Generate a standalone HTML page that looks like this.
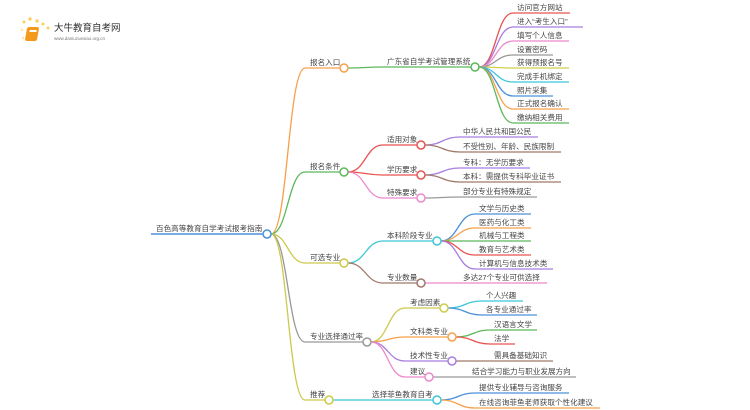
<!DOCTYPE html>
<html><head><meta charset="utf-8">
<style>
html,body{margin:0;padding:0;background:#fff;width:750px;height:410px;overflow:hidden}
svg text{font-family:"Liberation Sans","Noto Sans CJK SC",sans-serif;font-size:7.6px;fill:#444}
</style></head>
<body>
<svg id="s" width="750" height="410" xmlns="http://www.w3.org/2000/svg">
<g>
 <circle cx="24" cy="22" r="1.5" fill="#fbd35a"/><circle cx="30" cy="19" r="1.7" fill="#fbd35a"/><circle cx="37" cy="21" r="1.7" fill="#fbd35a"/><circle cx="43" cy="24" r="1.5" fill="#fbd35a"/><circle cx="48" cy="28" r="1.5" fill="#fbd35a"/><circle cx="22" cy="30" r="1.3" fill="#fde7a0"/><circle cx="23" cy="38" r="1.2" fill="#fde7a0"/>
 <rect x="32" y="27" width="12" height="14" rx="2" fill="#f39a1c" transform="skewX(-10)"/>
 <rect x="35" y="30" width="7" height="2" fill="#fff" transform="skewX(-10)"/>
 <text x="54" y="31" style="font-size:9.5px;fill:#333">大牛教育自考网</text>
 <text x="54" y="40" style="font-size:4.5px;fill:#777">www.daniuzuexiao.org.cn</text>
</g>
</svg>
<script>
var s=document.getElementById('s'),NS='http://www.w3.org/2000/svg';
function el(t,a,txt){var e=document.createElementNS(NS,t);for(var k in a)e.setAttribute(k,a[k]);if(txt)e.textContent=txt;s.appendChild(e);return e;}
var circles=[];
function link(px,py,x,y,end,col,label,circ,tx){
 var mx=(px+x)/2;
 el('path',{d:'M'+px+' '+py+' C'+mx+' '+py+','+mx+' '+y+','+x+' '+y+' L'+end+' '+y,fill:'none',stroke:col,'stroke-width':1.3});
 el('text',{x:tx||x+2,y:y-3},label);
 if(circ)circles.push([end+4,y,col]);
}
el('line',{x1:151,y1:234,x2:263,y2:234,stroke:'#4a90d9','stroke-width':1.5});
el('text',{x:156,y:231},'百色高等教育自学考试报考指南');
circles.push([267,234,'#4a90d9']);
var R=[271,234];
link(R[0],R[1],305,68,340,'#f7a04a','报名入口',1,310);
link(R[0],R[1],305,172,340,'#5cb85c','报名条件',1,310);
link(R[0],R[1],305,263,340,'#cdc94a','可选专业',1,310);
link(R[0],R[1],305,342,363,'#999','专业选择通过率',1,310);
link(R[0],R[1],305,400,325,'#cdc94a','推荐',1,310);
link(348,68,383,67,471,'#5cb85c','广东省自学考试管理系统',1,387);
var a=[['访问官方网站',13,570,'#e8534f'],['进入“考生入口”',27,583,'#a87de0'],['填写个人信息',41,569,'#ee88cc'],['设置密码',55,553,'#999'],['获得预报名号',68,569,'#d4cf4a'],['完成手机绑定',82,569,'#3cc7d8'],['照片采集',96,553,'#4a90d9'],['正式报名确认',109,569,'#f7a04a'],['缴纳相关费用',123,569,'#5cb85c']];
a.forEach(function(c){link(479,67,513,c[1],c[2],c[3],c[0],0,517);});
link(348,172,383,145,417,'#e8534f','适用对象',1,387);
link(348,172,383,175,417,'#e8534f','学历要求',1,387);
link(348,172,383,198,417,'#ee88cc','特殊要求',1,387);
link(425,145,460,137,538,'#a87de0','中华人民共和国公民',0,463);
link(425,145,460,152,561,'#a0796a','不受性别、年龄、民族限制',0,463);
link(425,175,460,168,530,'#a87de0','专科：无学历要求',0,463);
link(425,175,460,182,561,'#a0796a','本科：需提供专科毕业证书',0,463);
link(425,198,460,197,537,'#999','部分专业有特殊规定',0,463);
link(348,263,383,241,433,'#3cc7d8','本科阶段专业',1,387);
link(348,263,383,283,417,'#a0796a','专业数量',1,387);
var b=[['文学与历史类',214,531,'#4a90d9'],['医药与化工类',228,531,'#f7a04a'],['机械与工程类',241,531,'#5cb85c'],['教育与艺术类',255,531,'#e8534f'],['计算机与信息技术类',269,553,'#a87de0']];
b.forEach(function(c){link(441,241,475,c[1],c[2],c[3],c[0],0,479);});
link(425,283,460,283,547,'#ee88cc','多达27个专业可供选择',0,463);
link(371,342,405,308,440,'#cdc94a','考虑因素',1,410);
link(371,342,405,337,448,'#f7a04a','文科类专业',1,410);
link(371,342,405,361,448,'#a87de0','技术性专业',1,410);
link(371,342,405,377,425,'#ee88cc','建议',1,410);
link(448,308,482,301,523,'#3cc7d8','个人兴趣',0,486);
link(448,308,482,315,537,'#4a90d9','各专业通过率',0,486);
link(456,337,490,330,537,'#5cb85c','汉语言文学',0,494);
link(456,337,490,344,515,'#e8534f','法学',0,494);
link(456,361,490,361,553,'#a0796a','需具备基础知识',0,494);
link(433,377,468,377,576,'#999','结合学习能力与职业发展方向',0,472);
link(333,400,368,400,433,'#3cc7d8','选择菲鱼教育自考',1,372);
link(441,400,475,393,569,'#4a90d9','提供专业辅导与咨询服务',0,479);
link(441,400,475,408,600,'#f7a04a','在线咨询菲鱼老师获取个性化建议',0,479);
circles.forEach(function(c){el('circle',{cx:c[0],cy:c[1],r:4,fill:'#fff',stroke:c[2],'stroke-width':1.5});});
</script>
</body></html>
